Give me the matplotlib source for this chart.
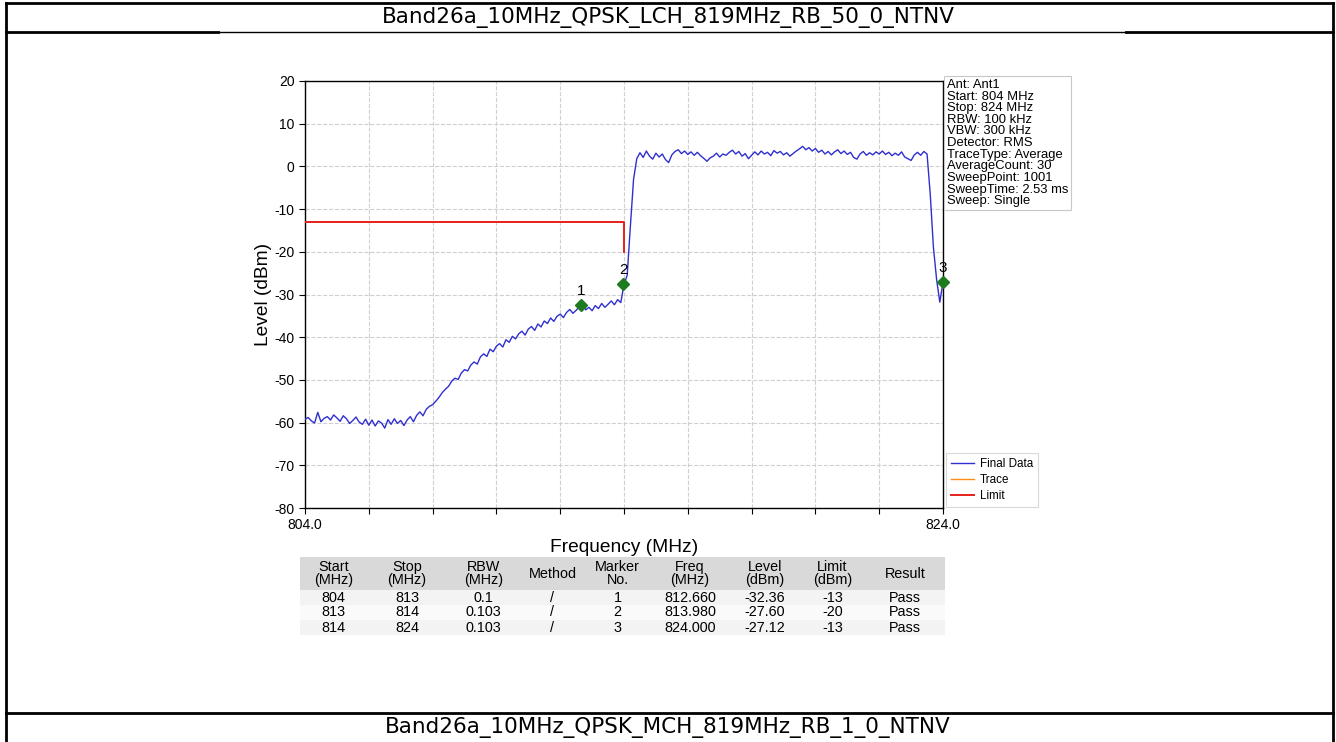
import numpy as np
import matplotlib
matplotlib.use("Agg")
import matplotlib.pyplot as plt
from matplotlib.lines import Line2D

plt.rcParams['font.family'] = ['Liberation Sans', 'DejaVu Sans']
plt.rcParams['axes.unicode_minus'] = False

W, H = 1336, 742

title_top = "Band26a_10MHz_QPSK_LCH_819MHz_RB_50_0_NTNV"
title_bottom = "Band26a_10MHz_QPSK_MCH_819MHz_RB_1_0_NTNV"

# Sweep: 804-824 MHz, one level per 0.1 MHz (rows = 1 MHz each)
freq_start, freq_stop = 804.0, 824.0
level_dbm = [
    -59.2, -58.8, -59.6, -60.1, -57.6, -59.8, -59.0, -58.6, -59.4, -58.2,
    -58.9, -59.7, -58.4, -59.1, -60.2, -59.5, -58.7, -59.9, -60.4, -59.2,
    -60.6, -59.4, -60.8, -59.6, -60.1, -61.3, -59.3, -60.4, -59.1, -60.2,
    -59.5, -60.7, -59.4, -58.6, -59.8, -58.3, -57.5, -58.4, -56.9, -56.2,
    -55.8, -55.0, -54.1, -53.0, -52.2, -51.5, -50.3, -49.6, -49.9, -48.4,
    -47.6, -47.9, -46.5, -45.8, -46.3, -44.6, -43.9, -44.5, -42.8, -43.4,
    -42.1, -41.5, -42.3, -40.6, -41.2, -39.8, -40.4, -39.2, -38.6, -39.5,
    -38.1, -37.5, -38.4, -36.9, -37.6, -36.2, -36.8, -35.5, -36.3, -35.1,
    -34.6, -35.4, -34.2, -33.5, -34.4, -33.7, -32.9, -32.4, -33.6, -33.0,
    -33.8, -32.6, -33.3, -32.1, -33.0, -32.3, -31.5, -32.4, -31.2, -31.9,
    -27.6, -25.5, -14.0, -3.0, 1.8, 3.2, 2.1, 3.6, 2.4, 1.7,
    3.1, 2.2, 2.9, 1.6, 0.9, 2.7, 3.5, 3.9, 3.0, 3.6,
    2.8, 3.4, 2.6, 3.3, 2.5, 1.9, 1.2, 2.0, 2.4, 3.1,
    2.2, 2.9, 2.6, 3.3, 3.8, 2.9, 3.5, 2.4, 3.0, 1.8,
    2.6, 3.4, 2.7, 3.6, 2.9, 3.3, 2.5, 3.7, 3.1, 3.5,
    2.7, 3.2, 2.4, 3.0, 3.6, 4.1, 4.7, 3.9, 4.4, 3.6,
    4.2, 3.3, 3.8, 2.9, 3.5, 2.7, 3.4, 3.9, 3.0, 3.6,
    2.8, 3.3, 2.1, 1.7, 2.9, 3.5, 2.6, 3.2, 2.7, 3.4,
    2.9, 3.6, 2.8, 3.3, 2.5, 3.1, 2.6, 3.4, 2.2, 1.8,
    1.4, 2.7, 3.3, 2.6, 3.5, 2.9, -6.5, -19.0, -26.5, -31.8,
    -27.12,
]
freq_mhz = np.linspace(freq_start, freq_stop, len(level_dbm))

# Limit mask
limit_freq = [804.0, 814.0, 814.0]
limit_dbm = [-13.0, -13.0, -20.0]

# Markers
marker_no = ["1", "2", "3"]
marker_freq = [812.660, 813.980, 824.000]
marker_level = [-32.36, -27.60, -27.12]

info_lines = [
    "Ant: Ant1", "Start: 804 MHz", "Stop: 824 MHz", "RBW: 100 kHz",
    "VBW: 300 kHz", "Detector: RMS", "TraceType: Average",
    "AverageCount: 30", "SweepPoint: 1001", "SweepTime: 2.53 ms",
    "Sweep: Single",
]

table_header = ["Start\n(MHz)", "Stop\n(MHz)", "RBW\n(MHz)", "Method",
                "Marker\nNo.", "Freq\n(MHz)", "Level\n(dBm)", "Limit\n(dBm)", "Result"]
table_rows = [
    ["804", "813", "0.1", "/", "1", "812.660", "-32.36", "-13", "Pass"],
    ["813", "814", "0.103", "/", "2", "813.980", "-27.60", "-20", "Pass"],
    ["814", "824", "0.103", "/", "3", "824.000", "-27.12", "-13", "Pass"],
]
col_px = [67, 80, 73, 65, 65, 80, 70, 65, 80]

fig = plt.figure(figsize=(W / 100, H / 100), dpi=100)
fig.patch.set_facecolor("white")


def fx(px):
    return px / W


def fy(py):
    return 1 - py / H


# page frame
def hline(y, x0, x1, lw):
    fig.add_artist(Line2D([fx(x0), fx(x1)], [fy(y), fy(y)], color="black", lw=lw,
                          transform=fig.transFigure))


def vline(x, y0, y1, lw):
    fig.add_artist(Line2D([fx(x), fx(x)], [fy(y0), fy(y1)], color="black", lw=lw,
                          transform=fig.transFigure))


hline(3, 6, 1333, 2.0)
hline(32, 6, 218, 2.0)
hline(32, 218, 1126, 1.0)
hline(32, 1126, 1333, 2.0)
hline(713, 6, 1333, 2.0)
vline(6, 3, 742, 2.0)
vline(1333, 3, 742, 2.0)

fig.text(0.5, fy(17), title_top, ha="center", va="center", fontsize=15.5,
         family=["DejaVu Sans"])
fig.text(0.5, fy(728), title_bottom, ha="center", va="center", fontsize=15.5,
         family=["DejaVu Sans"])

# main spectrum axes
ax = fig.add_axes([fx(305), fy(508), fx(943) - fx(305), fy(81) - fy(508)])
ax.plot(freq_mhz, level_dbm, color="#2f2fd0", lw=1.0, label="Final Data", zorder=3)
ax.plot([], [], color="#ff8c1a", lw=1.0, label="Trace")
ax.plot(limit_freq, limit_dbm, color="#e8201a", lw=1.4, label="Limit", zorder=4)
ax.plot(marker_freq, marker_level, linestyle="none", marker="D", markersize=6,
        color="#1e7a1e", zorder=5, clip_on=False)
for n, f, lv in zip(marker_no, marker_freq, marker_level):
    ax.annotate(n, (f, lv), xytext=(0, 5), textcoords="offset points",
                ha="center", va="bottom", fontsize=11, zorder=6, annotation_clip=False)

ax.set_xlim(freq_start, freq_stop)
ax.set_ylim(-80, 20)
ax.set_yticks(np.arange(-80, 21, 10))
xt = np.arange(804, 825, 2)
ax.set_xticks(xt)
ax.set_xticklabels([f"{v:.1f}" if v in (804, 824) else "" for v in xt])
ax.tick_params(labelsize=10, length=4, width=0.8)
ax.grid(True, color="#cfcfcf", linestyle="--", linewidth=0.8)
for s in ax.spines.values():
    s.set_linewidth(1.0)
ax.set_ylabel("Level (dBm)", fontsize=13.8, labelpad=2)
fig.text(fx(624), fy(547), "Frequency (MHz)", ha="center", va="center", fontsize=13.8)

ax.text(1.006, 1.005, "\n".join(info_lines), transform=ax.transAxes, ha="left", va="top",
        fontsize=9.4, linespacing=0.96,
        bbox=dict(boxstyle="square,pad=0.2", facecolor="white", edgecolor="#c8c8c8", lw=0.8))

leg = ax.legend(loc="lower left", bbox_to_anchor=(1.003, 0.0), fontsize=8.4, frameon=True,
                borderaxespad=0.1, handlelength=2.0, handletextpad=0.5,
                labelspacing=0.35, borderpad=0.4)
leg.get_frame().set_edgecolor("#d0d0d0")
leg.get_frame().set_linewidth(0.8)
leg.get_frame().set_boxstyle("square", pad=0.0)

# summary table below the plot
tax = fig.add_axes([fx(300), fy(635), fx(945) - fx(300), fy(557) - fy(635)])
tax.axis("off")
tbl = tax.table(cellText=table_rows, colLabels=table_header, cellLoc="center",
                bbox=[0, 0, 1, 1], colWidths=[c / sum(col_px) for c in col_px])
tbl.auto_set_font_size(False)
total_h = 78.0
for (r, c), cell in tbl.get_celld().items():
    cell.set_linewidth(0)
    cell.set_text_props(fontsize=10.4)
    if r == 0:
        cell.set_facecolor("#d9d9d9")
        cell.set_height(33 / total_h)
        cell.get_text().set_linespacing(0.9)
    else:
        cell.set_facecolor("#f3f3f3" if r % 2 == 1 else "#fafafa")
        cell.set_height(15 / total_h)
        cell.PAD = 0.02

fig.savefig("out.png", dpi=100)
